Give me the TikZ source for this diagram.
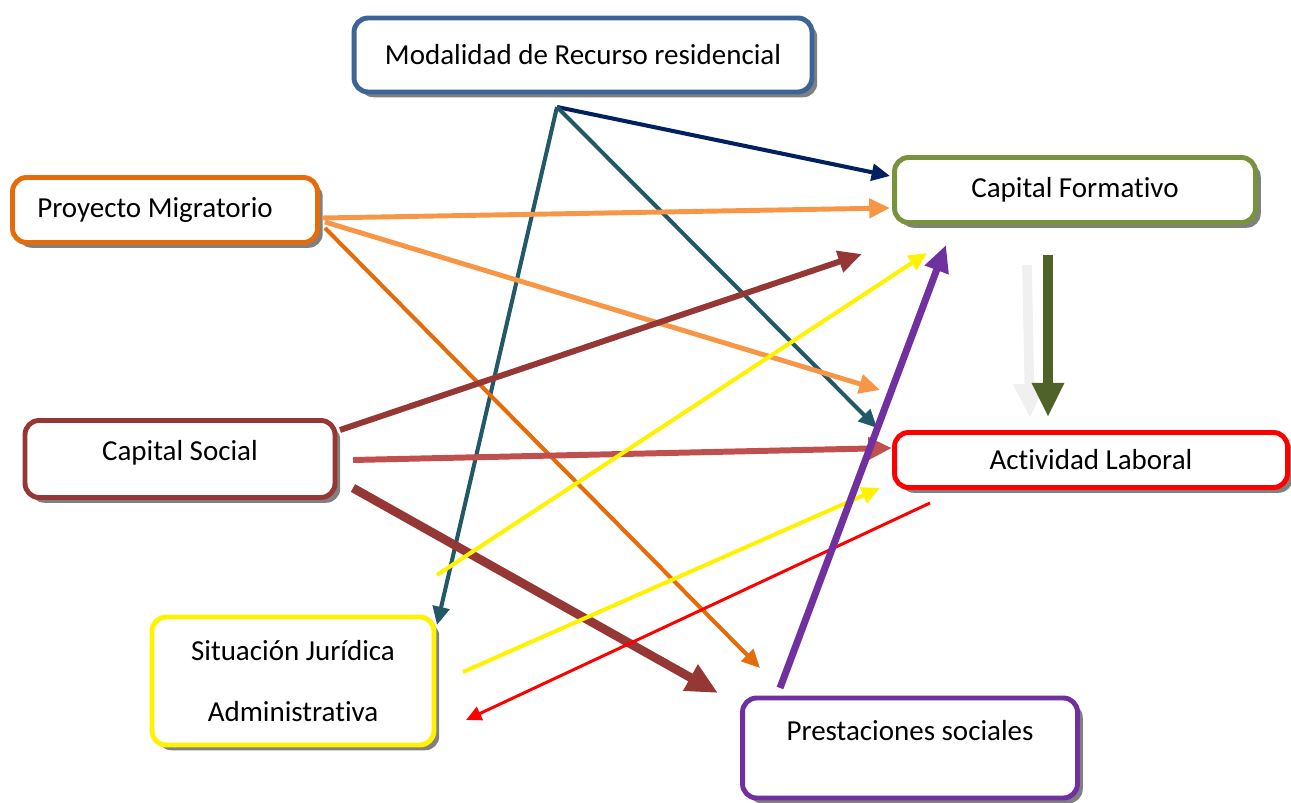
\documentclass[tikz,border=0pt]{standalone}
\usepackage{fontspec}
\setmainfont{Carlito}[Ligatures=NoCommon]
\usetikzlibrary{arrows.meta,shadows}

\definecolor{azulcaja}{RGB}{60,100,150}
\definecolor{naranja}{RGB}{228,108,10}
\definecolor{naranjaclaro}{RGB}{247,150,70}
\definecolor{verdecaja}{RGB}{119,147,60}
\definecolor{verdeosc}{RGB}{79,98,40}
\definecolor{granate}{RGB}{149,55,53}
\definecolor{rojoclaro}{RGB}{192,80,77}
\definecolor{marino}{RGB}{0,32,96}
\definecolor{petroleo}{RGB}{33,89,104}
\definecolor{morado}{RGB}{112,48,160}
\definecolor{grisclaro}{RGB}{240,240,240}

\tikzset{
  caja/.style={draw=#1, line width=2.8pt, rounded corners=8pt, fill=white, inner sep=0pt,
    drop shadow={shadow xshift=3pt, shadow yshift=-3pt, fill=gray, opacity=1},
    font=\fontsize{16.5}{20}\selectfont},
  flecha/.style={line width=#1, -{Triangle[length=4pt 2.8, width=4pt 2.4]}}
}

\begin{document}
\begin{tikzpicture}[x=0.02cm, y=-0.02cm]
  \useasboundingbox (0,0) rectangle (1291,803);

  % cajas
  \node[caja=azulcaja, minimum width=9.16cm, minimum height=1.48cm] (mr) at (583,55) {Modalidad de Recurso residencial};
  \node[caja=naranja, minimum width=6.1cm, minimum height=1.3cm] (pm) at (165,210) {Proyecto Migratorio\hspace*{0.4cm}};
  \node[caja=verdecaja, minimum width=7.22cm, minimum height=1.3cm] (cf) at (1075,190) {Capital Formativo};
  \node[caja=granate, minimum width=6.2cm, minimum height=1.54cm, text depth=0.35cm] (cs) at (180,459) {Capital Social};
  \node[caja=red, minimum width=7.86cm, minimum height=1.1cm] (al) at (1091,460) {Actividad Laboral};
  \node[caja=yellow, minimum width=5.64cm, minimum height=2.56cm, align=center] (sj) at (293,681) {Situación Jurídica\\[15pt]Administrativa};
  \node[caja=morado, minimum width=6.7cm, minimum height=2.0cm, text depth=0.7cm] (ps) at (910,748) {Prestaciones sociales};

  % puntos de salida y llegada
  \coordinate (mr-pie) at (557,107);
  \coordinate (cf-izq) at (890,176);
  \coordinate (cf-izq2) at (890,208);
  \coordinate (cf-abajo1) at (862,254);
  \coordinate (cf-abajo2) at (927,253);
  \coordinate (cf-abajo3) at (946,245);
  \coordinate (cf-gris) at (1027,265);
  \coordinate (cf-verde) at (1048,255);
  \coordinate (al-gris) at (1030,418);
  \coordinate (al-verde) at (1048,417);
  \coordinate (al-izq1) at (880,390);
  \coordinate (al-izq2) at (877,428);
  \coordinate (al-izq3) at (892,448);
  \coordinate (al-izq4) at (880,488);
  \coordinate (al-sal) at (930,503);
  \coordinate (pm-der1) at (322,218);
  \coordinate (pm-der2) at (325,222);
  \coordinate (pm-der3) at (325,228);
  \coordinate (cs-der1) at (340,430);
  \coordinate (cs-der2) at (353,460);
  \coordinate (cs-der3) at (353,488);
  \coordinate (sj-arr) at (437,625);
  \coordinate (sj-der1) at (437,575);
  \coordinate (sj-der2) at (463,672);
  \coordinate (sj-der3) at (466,720);
  \coordinate (ps-arr1) at (760,668);
  \coordinate (ps-arr2) at (718,693);
  \coordinate (ps-sal) at (780,688);

  % flechas
  \draw[flecha=2.3pt, marino] (mr-pie) -- (cf-izq);
  \draw[flecha=2.3pt, petroleo] (mr-pie) -- (al-izq2);
  \draw[flecha=2.3pt, petroleo] (mr-pie) -- (sj-arr);
  \draw[flecha=2.8pt, naranjaclaro] (pm-der1) -- (cf-izq2);
  \draw[flecha=2.8pt, naranjaclaro] (pm-der2) -- (al-izq1);
  \draw[flecha=2.3pt, naranja] (pm-der3) -- (ps-arr1);
  \draw[flecha=3.4pt, granate] (cs-der1) -- (cf-abajo1);
  \draw[flecha=3.4pt, rojoclaro] (cs-der2) -- (al-izq3);
  \draw[flecha=5pt, granate] (cs-der3) -- (ps-arr2);
  \draw[flecha=2.3pt, yellow] (sj-der1) -- (cf-abajo2);
  \draw[flecha=2.3pt, yellow] (sj-der2) -- (al-izq4);
  \draw[flecha=1.7pt, red] (al-sal) -- (sj-der3);
  \draw[flecha=4pt, morado] (ps-sal) -- (cf-abajo3);
  \draw[flecha=5.5pt, grisclaro] (cf-gris) -- (al-gris);
  \draw[flecha=5.5pt, verdeosc] (cf-verde) -- (al-verde);
\end{tikzpicture}
\end{document}
